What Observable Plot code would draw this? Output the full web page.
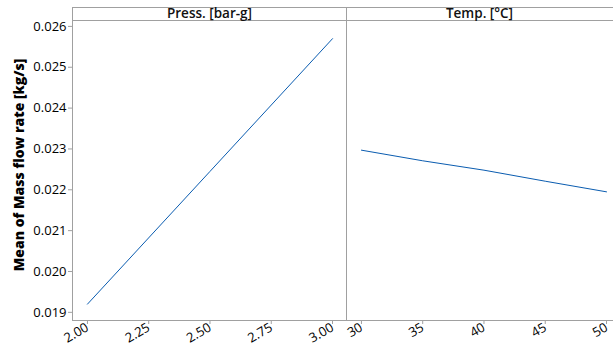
<!DOCTYPE html>
<html><head><meta charset="utf-8">
<script src="https://cdn.jsdelivr.net/npm/d3@7"></script>
<script src="https://cdn.jsdelivr.net/npm/@observablehq/plot@0.6"></script>
<style>
body{margin:0;background:#fff;font-family:"Open Sans",sans-serif;}
#wrap{position:relative;width:613px;height:354px;overflow:hidden;}
#wrap svg{position:absolute;top:0;overflow:visible;}
.hdr{position:absolute;top:7px;height:14px;box-sizing:border-box;border-top:1px solid #a0a0a0;border-bottom:1px solid #a0a0a0;font-weight:600;font-size:13.5px;line-height:11px;text-align:center;color:#111;}
#ylab{position:absolute;left:18px;top:165px;transform:translate(-50%,-50%) rotate(-90deg);white-space:nowrap;font-weight:800;font-size:14px;color:#000;}
</style></head>
<body><div id="wrap"></div>
<script>
const yLabel = "Mean of Mass flow rate [kg/s]";
const panelTitles = ["Press. [bar-g]", "Temp. [°C]"];
const yTicks = [0.019, 0.020, 0.021, 0.022, 0.023, 0.024, 0.025, 0.026];
const pressX = [2.00, 2.50, 3.00];
const pressY = [0.01920, 0.02245, 0.02570];
const pressTicks = [2.00, 2.25, 2.50, 2.75, 3.00];
const tempX = [30, 35, 40, 45, 50];
const tempY = [0.02297, 0.02271, 0.02248, 0.02221, 0.02195];
const tempTicks = [30, 35, 40, 45, 50];

const yDomain = [0.0188, 0.02612];
const axisGray = "#a0a0a0";
const lineBlue = "#0a5cb0";
const H = 354, MT = 21, MB = 34;

const press = pressX.map((x,i)=>({x, y: pressY[i]}));
const temp = tempX.map((x,i)=>({x, y: tempY[i]}));

const common = {
  height: H, marginTop: MT, marginBottom: MB,
  style: {fontFamily: "Open Sans, sans-serif", fontSize: "12px", color: "#111", background: "transparent"},
  y: {domain: yDomain}
};

const left = Plot.plot({
  ...common,
  width: 346, marginLeft: 72, marginRight: 0,
  x: {domain: [1.939, 3.057]},
  marks: [
    Plot.ruleX([1.939], {stroke: axisGray, y1: yDomain[0], y2: yDomain[1]}),
    Plot.ruleX([3.057], {stroke: axisGray, y1: yDomain[0], y2: yDomain[1]}),
    Plot.ruleY([yDomain[0]], {stroke: axisGray}),
    Plot.axisY({ticks: yTicks, tickFormat: d3.format(".3f"), tickSize: 4, tickPadding: 2, stroke: axisGray, fill: "#000", fontSize: 13, label: null}),
    Plot.axisX({ticks: pressTicks, tickFormat: d3.format(".2f"), tickSize: 4, tickRotate: -30, tickPadding: 2, stroke: axisGray, fill: "#000", fontSize: 13, label: null}),
    Plot.line(press, {x: "x", y: "y", stroke: lineBlue, strokeWidth: 1})
  ]
});
left.style.left = "0px";

const right = Plot.plot({
  ...common,
  width: 267, marginLeft: 0, marginRight: 0,
  x: {domain: [28.78, 50.57]},
  marks: [
    Plot.ruleY([yDomain[0]], {stroke: axisGray}),
    Plot.axisY({ticks: [], label: null}),
    Plot.axisX({ticks: tempTicks, tickSize: 4, tickRotate: -30, tickPadding: 2, stroke: axisGray, fill: "#000", fontSize: 13, label: null}),
    Plot.line(temp, {x: "x", y: "y", stroke: lineBlue, strokeWidth: 1})
  ]
});
right.style.left = "346px";

const wrap = document.getElementById("wrap");
wrap.append(left, right);

const h1 = document.createElement("div");
h1.className = "hdr"; h1.style.left = "72px"; h1.style.width = "275px";
h1.style.borderLeft = "1px solid " + axisGray; h1.style.borderRight = "1px solid " + axisGray;
h1.textContent = panelTitles[0];
const h2 = document.createElement("div");
h2.className = "hdr"; h2.style.left = "346px"; h2.style.width = "267px";
h2.textContent = panelTitles[1];
const yl = document.createElement("div");
yl.id = "ylab"; yl.textContent = yLabel;
wrap.append(h1, h2, yl);
</script>
</body></html>
